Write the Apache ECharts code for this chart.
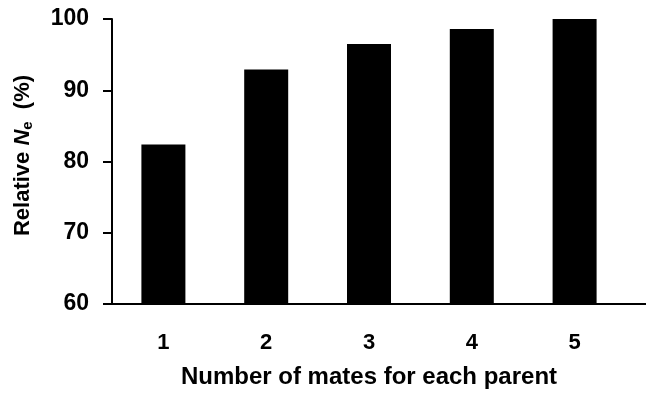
<!DOCTYPE html>
<html>
<head>
<meta charset="utf-8">
<script src="https://cdn.jsdelivr.net/npm/echarts@6/dist/echarts.min.js"></script>
<style>
  html, body { margin: 0; padding: 0; background: #fff; }
  #main { width: 646px; height: 397px; }
</style>
</head>
<body>
<div id="main"></div>
<script>
// 数据
var categories = ['1', '2', '3', '4', '5'];
var relativeNe = [82.4, 92.9, 96.5, 98.6, 100];
var yTicks = [60, 70, 80, 90, 100];

var FONT = '"Liberation Sans", Arial, sans-serif';

var myChart = echarts.init(document.getElementById('main'));
var option = {
    animation: false,
    backgroundColor: '#fff',
    grid: {
        left: 112,
        right: 20,
        top: 19,
        bottom: 93
    },
    xAxis: {
        type: 'category',
        data: categories,
        name: 'Number of mates for each parent',
        nameLocation: 'middle',
        nameGap: 61,
        nameTextStyle: { fontFamily: FONT, fontWeight: 'bold', fontSize: 24, color: '#000' },
        axisLine: { lineStyle: { color: '#000', width: 2 } },
        axisTick: { show: false },
        axisLabel: { fontFamily: FONT, fontWeight: 'bold', fontSize: 22, color: '#000', margin: 28 }
    },
    yAxis: {
        type: 'value',
        min: yTicks[0],
        max: yTicks[yTicks.length - 1],
        interval: 10,
        name: '{n|Relative }{i|N}{s|e}{n|  (%)}',
        nameLocation: 'middle',
        nameGap: 77,
        nameTextStyle: {
            padding: [0, 0, 0, 12],
            rich: {
                n: { fontFamily: FONT, fontWeight: 'bold', fontSize: 22, color: '#000' },
                i: { fontFamily: FONT, fontWeight: 'bold', fontStyle: 'italic', fontSize: 22, color: '#000' },
                s: { fontFamily: FONT, fontWeight: 'bold', fontSize: 15, color: '#000', verticalAlign: 'bottom', padding: [9, 0, 0, 0] }
            }
        },
        axisLine: { show: true, lineStyle: { color: '#000', width: 2 } },
        axisTick: { show: true, length: 9, lineStyle: { color: '#000', width: 2 } },
        splitLine: { show: false },
        axisLabel: { fontFamily: FONT, fontWeight: 'bold', fontSize: 23, color: '#000', margin: 23 }
    },
    series: [{
        type: 'bar',
        barWidth: 44,
        itemStyle: { color: '#000' },
        data: relativeNe
    }]
};
myChart.setOption(option);

// x轴线向两端延伸
var y0 = myChart.convertToPixel({ yAxisIndex: 0 }, yTicks[0]);
myChart.setOption({
    graphic: [
        { type: 'line', shape: { x1: 103, y1: y0, x2: 113, y2: y0 }, style: { stroke: '#000', lineWidth: 2 } },
        { type: 'line', shape: { x1: 625, y1: y0, x2: 646, y2: y0 }, style: { stroke: '#000', lineWidth: 2 } }
    ]
});
</script>
</body>
</html>
